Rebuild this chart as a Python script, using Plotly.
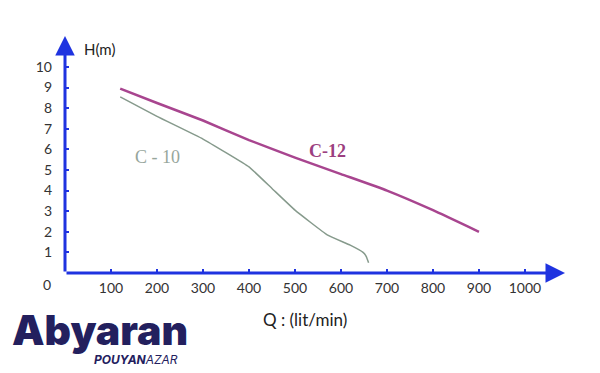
import plotly.graph_objects as go

# Data
q_c12 = [120, 200, 300, 400, 500, 600, 700, 800, 900]
h_c12 = [8.95, 8.25, 7.4, 6.45, 5.6, 4.8, 4.0, 3.05, 2.0]

q_c10 = [120, 200, 300, 400, 450, 500, 570, 620, 648, 655, 660]
h_c10 = [8.55, 7.6, 6.5, 5.15, 4.1, 3.05, 1.85, 1.35, 1.0, 0.8, 0.5]

x_ticks = [100, 200, 300, 400, 500, 600, 700, 800, 900, 1000]
y_ticks = [1, 2, 3, 4, 5, 6, 7, 8, 9, 10]

X_MAX = 1087
Y_MAX = 11.5
AXIS_BLUE = "#1f33e0"
TEXT = "#333333"

fig = go.Figure()
fig.add_trace(go.Scatter(x=q_c12, y=h_c12, mode="lines",
                         line=dict(color="#a8458f", width=2.5, shape="spline", smoothing=0.4),
                         showlegend=False, hoverinfo="skip"))
fig.add_trace(go.Scatter(x=q_c10, y=h_c10, mode="lines",
                         line=dict(color="#869a8c", width=1.5, shape="spline", smoothing=0.3),
                         showlegend=False, hoverinfo="skip"))

fig.update_layout(
    width=600, height=373,
    margin=dict(l=65, r=35, t=36, b=100),
    plot_bgcolor="white", paper_bgcolor="white",
    xaxis=dict(range=[0, X_MAX], tickvals=x_ticks, ticktext=[str(v) for v in x_ticks],
               ticks="inside", ticklen=4, tickwidth=2, tickcolor=AXIS_BLUE,
               showgrid=False, zeroline=False, showline=False, automargin=False,
               tickfont=dict(family="Lato", size=14, color=TEXT), ticklabelstandoff=5),
    yaxis=dict(range=[0, Y_MAX], tickvals=y_ticks, ticktext=[str(v) for v in y_ticks],
               ticks="inside", ticklen=4, tickwidth=2, tickcolor=AXIS_BLUE,
               showgrid=False, zeroline=False, showline=False, automargin=False,
               tickfont=dict(family="Lato", size=14, color=TEXT), ticklabelstandoff=12),
)

# Axes with arrowheads
fig.add_annotation(x=X_MAX, y=0, ax=0, ay=0, xref="x", yref="y", axref="x", ayref="y",
                   showarrow=True, arrowhead=2, arrowsize=1.3, arrowwidth=3,
                   arrowcolor=AXIS_BLUE, text="")
fig.add_annotation(x=0, y=Y_MAX, ax=0, ay=0, xref="x", yref="y", axref="x", ayref="y",
                   showarrow=True, arrowhead=2, arrowsize=1.3, arrowwidth=3,
                   arrowcolor=AXIS_BLUE, text="")

# Axis labels (paper coords: plot area is 500 x 237 px)
fig.add_annotation(x=-0.036, y=-0.05, xref="paper", yref="paper", text="0", showarrow=False,
                   xanchor="center", yanchor="middle",
                   font=dict(family="Lato", size=14, color=TEXT))
fig.add_annotation(x=38, y=10.85, xref="x", yref="y", text="H(m)", showarrow=False,
                   xanchor="left", yanchor="middle",
                   font=dict(family="Lato", size=15, color="#222222"))
fig.add_annotation(x=0.48, y=-0.198, xref="paper", yref="paper", text="Q : (lit/min)",
                   showarrow=False, xanchor="center", yanchor="middle",
                   font=dict(family="Lato", size=17, color="#222222"))

# Curve labels
fig.add_annotation(x=570, y=5.9, xref="x", yref="y", text="<b>C-12</b>", showarrow=False,
                   font=dict(family="Liberation Serif", size=18, color="#9c3f80"))
fig.add_annotation(x=200, y=5.65, xref="x", yref="y", text="C - 10", showarrow=False,
                   font=dict(family="Liberation Serif", size=18, color="#97a69c"))

# Logo
fig.add_annotation(x=0.07, y=-0.24, xref="paper", yref="paper", xanchor="center",
                   yanchor="middle", text="Abyaran", showarrow=False,
                   font=dict(family="Inter", size=41, color="#23205e", weight=900))
fig.add_annotation(x=0.142, y=-0.366, xref="paper", yref="paper", xanchor="center",
                   yanchor="middle", text="<i><b>POUYAN</b>AZAR</i>", showarrow=False,
                   font=dict(family="Inter", size=12, color="#23205e"))

fig.write_html("out.html", post_script="document.body.style.margin='0';",
               config={"displayModeBar": False})
